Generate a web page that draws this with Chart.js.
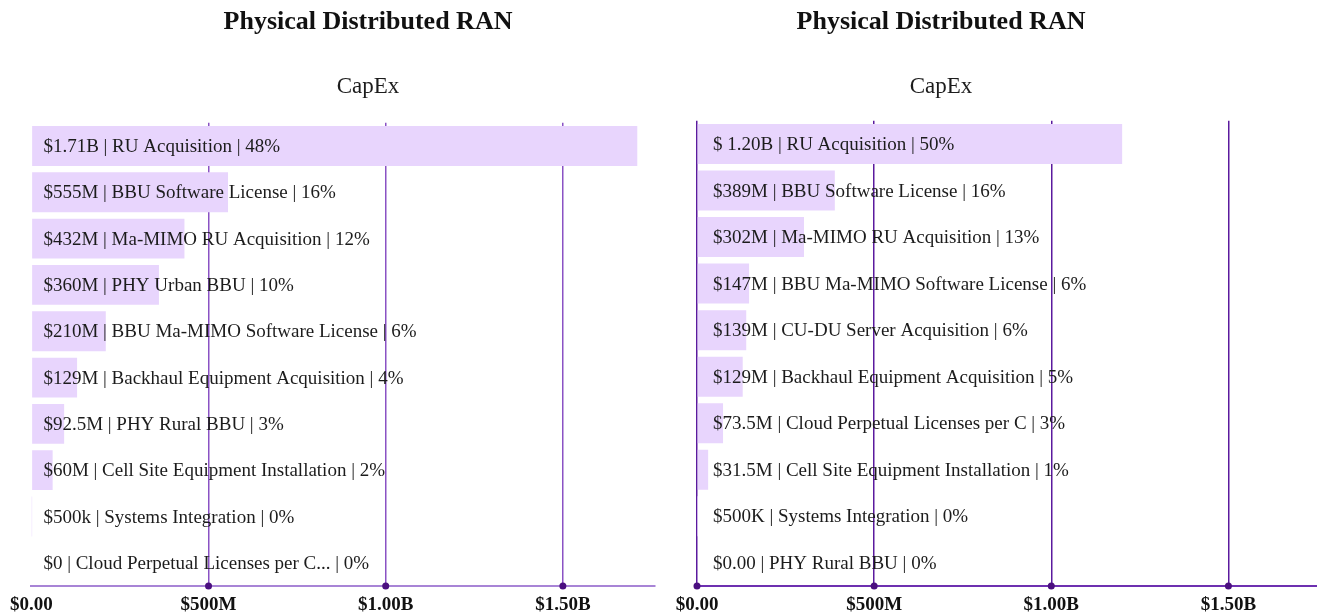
<!DOCTYPE html>
<html>
<head>
<meta charset="utf-8">
<script src="https://cdn.jsdelivr.net/npm/chart.js@4/dist/chart.umd.min.js"></script>
<style>
  html, body { margin: 0; padding: 0; background: #ffffff; }
  body { width: 1317px; height: 613px; position: relative; overflow: hidden; }
  .wrap { position: absolute; top: 0; height: 613px; }
  #wrapL { left: 0; width: 736px; }
  #wrapR { left: 565px; width: 752px; }
</style>
</head>
<body>
<div class="wrap" id="wrapL"><canvas id="chartL"></canvas></div>
<div class="wrap" id="wrapR"><canvas id="chartR"></canvas></div>
<script>
// ---- Data: left chart ----
const titleText = "Physical Distributed RAN";
const subtitleText = "CapEx";

const leftCategories = [
  "RU Acquisition", "BBU Software License", "Ma-MIMO RU Acquisition", "PHY Urban BBU",
  "BBU Ma-MIMO Software License", "Backhaul Equipment Acquisition", "PHY Rural BBU",
  "Cell Site Equipment Installation", "Systems Integration", "Cloud Perpetual Licenses per C..."
];
const leftValues = [1710000000, 555000000, 432000000, 360000000, 210000000, 129000000, 92500000, 60000000, 500000, 0];
const leftValueLabels = ["$1.71B", "$555M", "$432M", "$360M", "$210M", "$129M", "$92.5M", "$60M", "$500k", "$0"];
const leftPercents = [48, 16, 12, 10, 6, 4, 3, 2, 0, 0];

// ---- Data: right chart ----
const rightCategories = [
  "RU Acquisition", "BBU Software License", "Ma-MIMO RU Acquisition", "BBU Ma-MIMO Software License",
  "CU-DU Server Acquisition", "Backhaul Equipment Acquisition", "Cloud Perpetual Licenses per C",
  "Cell Site Equipment Installation", "Systems Integration", "PHY Rural BBU"
];
const rightValues = [1200000000, 389000000, 302000000, 147000000, 139000000, 129000000, 73500000, 31500000, 500000, 0];
const rightValueLabels = ["$ 1.20B", "$389M", "$302M", "$147M", "$139M", "$129M", "$73.5M", "$31.5M", "$500K", "$0.00"];
const rightPercents = [50, 16, 13, 6, 6, 5, 3, 1, 0, 0];

// ---- Axis ticks ----
const tickValues = [0, 500000000, 1000000000, 1500000000];
const tickLabels = ["$0.00", "$500M", "$1.00B", "$1.50B"];

const SERIF = "'Liberation Serif', 'DejaVu Serif', serif";

const barLabelPlugin = {
  id: 'barLabels',
  afterDatasetsDraw(chart, args, opts) {
    const ctx = chart.ctx;
    const meta = chart.getDatasetMeta(0);
    const area = chart.chartArea;
    ctx.save();
    ctx.font = "19px " + SERIF;
    ctx.fillStyle = "#1c1c1c";
    ctx.textAlign = "left";
    ctx.textBaseline = "middle";
    meta.data.forEach((bar, i) => {
      const txt = opts.valueLabels[i] + " | " + opts.categories[i] + " | " + opts.percents[i] + "%";
      ctx.fillText(txt, area.left + opts.offsetX, bar.y + opts.offsetY);
    });
    ctx.restore();
  }
};

const tickDotPlugin = {
  id: 'tickDots',
  afterDraw(chart, args, opts) {
    const ctx = chart.ctx;
    const xs = chart.scales.x;
    const y = chart.chartArea.bottom;
    ctx.save();
    ctx.fillStyle = opts.color;
    xs.ticks.forEach(t => {
      if (t.value === 0 && !opts.showZero) return;
      const x = xs.getPixelForValue(t.value);
      ctx.beginPath();
      ctx.arc(x, y, 3.5, 0, Math.PI * 2);
      ctx.fill();
    });
    ctx.restore();
  }
};

function spacerAxis(position, width) {
  return {
    type: 'category',
    position: position,
    display: width > 0,
    ticks: { display: false },
    grid: { display: false, drawTicks: false },
    border: { display: false },
    afterFit: (scale) => { scale.width = width; }
  };
}

function makeChart(id, cfg) {
  return new Chart(document.getElementById(id), {
    type: 'bar',
    data: {
      labels: cfg.categories,
      datasets: [{
        data: cfg.values,
        backgroundColor: '#e8d5fd',
        borderWidth: 0,
        barPercentage: 0.86,
        categoryPercentage: 1.0,
        yAxisID: 'y'
      }]
    },
    options: {
      indexAxis: 'y',
      responsive: true,
      maintainAspectRatio: false,
      animation: false,
      layout: { padding: { left: 0, right: 0, top: 0, bottom: cfg.padBottom } },
      plugins: {
        legend: { display: false },
        tooltip: { enabled: false },
        title: {
          display: true,
          text: titleText,
          color: '#111111',
          font: { family: SERIF, size: 26, weight: 'bold', lineHeight: 1.2 },
          padding: { top: 7, bottom: 35 }
        },
        subtitle: {
          display: true,
          text: subtitleText,
          color: '#1c1c1c',
          font: { family: SERIF, size: 23, weight: 'normal', lineHeight: 1.2 },
          padding: { top: 0, bottom: cfg.subBottom }
        },
        barLabels: {
          categories: cfg.categories,
          valueLabels: cfg.valueLabels,
          percents: cfg.percents,
          offsetX: cfg.labelOffset,
          offsetY: 1
        },
        tickDots: { color: '#4b0f80', showZero: cfg.showZero }
      },
      scales: {
        x: {
          type: 'linear',
          min: 0,
          max: cfg.max,
          afterBuildTicks: (scale) => { scale.ticks = tickValues.map(v => ({ value: v })); },
          ticks: {
            color: '#111111',
            font: { family: SERIF, size: 19, weight: 'bold', lineHeight: 1 },
            padding: 10,
            maxRotation: 0,
            autoSkip: false,
            callback: (val, idx) => tickLabels[idx]
          },
          grid: {
            drawTicks: false,
            lineWidth: 1.5,
            color: (c) => (c.tick && c.tick.value === 0 && !cfg.showZero) ? 'rgba(0,0,0,0)' : cfg.gridColor
          },
          border: { display: true, color: cfg.borderColor, width: 2 }
        },
        y: spacerAxis('left', cfg.leftSpace),
        y2: spacerAxis('right', cfg.rightSpace)
      }
    },
    plugins: [barLabelPlugin, tickDotPlugin]
  });
}

makeChart('chartL', {
  categories: leftCategories, values: leftValues, valueLabels: leftValueLabels, percents: leftPercents,
  max: 1760000000, leftSpace: 30, rightSpace: 81, padBottom: -12,
  subBottom: 22, labelOffset: 12, showZero: false,
  gridColor: '#8a52c4', borderColor: '#a884d6'
});

makeChart('chartR', {
  categories: rightCategories, values: rightValues, valueLabels: rightValueLabels, percents: rightPercents,
  max: 1750000000, leftSpace: 132, rightSpace: 0, padBottom: -12,
  subBottom: 20, labelOffset: 16, showZero: true,
  gridColor: '#5b1a9e', borderColor: '#6d30b0'
});
</script>
</body>
</html>
